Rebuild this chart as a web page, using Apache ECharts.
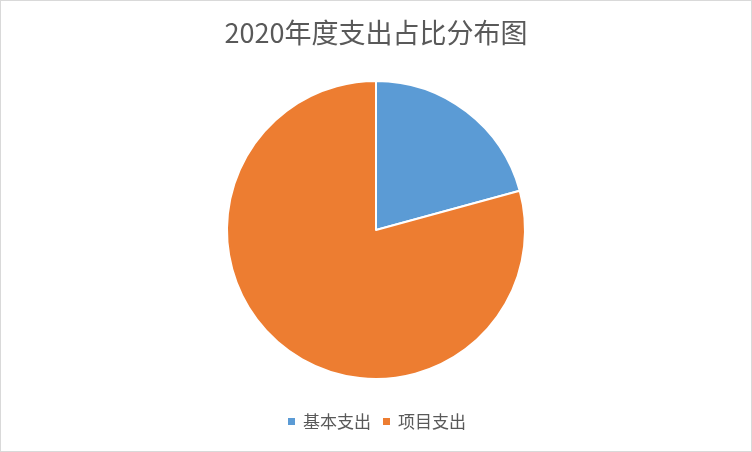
<!DOCTYPE html>
<html>
<head>
<meta charset="utf-8">
<script src="https://cdn.jsdelivr.net/npm/echarts@6/dist/echarts.min.js"></script>
<style>
  html, body { margin: 0; padding: 0; background: #fff; }
  #chart { width: 750px; height: 450px; border: 1px solid #d9d9d9; }
</style>
</head>
<body>
<div id="chart"></div>
<script>
// Data
const titleText = "2020年度支出占比分布图";
const categories = ["基本支出", "项目支出"];
const shares = [20.75, 79.25];
const colors = ["#5B9BD5", "#ED7D31"];

let myChart = echarts.init(document.getElementById("chart"));

let pieData = [];
for (let i = 0; i < categories.length; i++) {
  pieData.push({ name: categories[i], value: shares[i] });
}

let option = {
  animation: false,
  color: colors,
  title: {
    text: titleText,
    left: "center",
    top: 13,
    textStyle: {
      fontFamily: "Noto Sans CJK SC",
      fontSize: 27,
      fontWeight: "normal",
      color: "#595959",
    },
  },
  legend: {
    bottom: 16,
    left: "center",
    icon: "rect",
    itemWidth: 9,
    itemHeight: 9,
    itemGap: 10,
    textStyle: {
      fontFamily: "Noto Sans CJK SC",
      fontSize: 17,
      color: "#595959",
      padding: [0, 0, 0, 2],
    },
    data: categories,
  },
  series: [
    {
      type: "pie",
      center: [375, 229],
      radius: 149,
      startAngle: 90,
      clockwise: true,
      label: { show: false },
      labelLine: { show: false },
      emphasis: { disabled: true },
      itemStyle: {
        borderColor: "#fff",
        borderWidth: 2,
      },
      data: pieData,
    },
  ],
};

myChart.setOption(option);
</script>
</body>
</html>
